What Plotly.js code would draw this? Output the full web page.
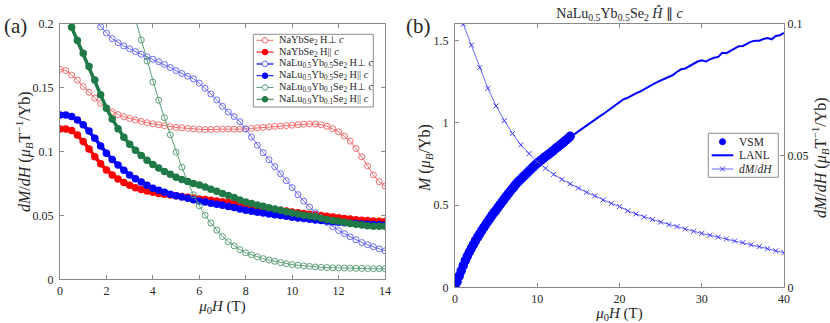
<!DOCTYPE html>
<html>
<head>
<meta charset="utf-8">
<script src="https://cdn.plot.ly/plotly-3.0.1.min.js"></script>
<style>
  html, body { margin: 0; padding: 0; background: #fff; }
  #plot { width: 830px; height: 323px; }
</style>
</head>
<body>
<div id="plot"></div>
<script>
// field grid (T), panel (a) and the VSM sweep of panel (b)
const fieldFine = [0,0.25,0.5,0.75,1,1.25,1.5,1.75,2,2.25,2.5,2.75,3,3.25,3.5,3.75,4,4.25,4.5,4.75,
  5,5.25,5.5,5.75,6,6.25,6.5,6.75,7,7.25,7.5,7.75,8,8.25,8.5,8.75,9,9.25,9.5,9.75,
  10,10.25,10.5,10.75,11,11.25,11.5,11.75,12,12.25,12.5,12.75,13,13.25,13.5,13.75,14];

// panel (a): dM/dH (muB T^-1 / Yb)
const nybPerp = [0.1645,0.1635,0.160,0.156,0.151,0.1465,0.142,0.1378,0.134,0.1312,
  0.129,0.1273,0.126,0.1248,0.1237,0.1227,0.1218,0.121,0.1203,0.1196,
  0.119,0.1186,0.1182,0.1178,0.1175,0.1173,0.1174,0.1176,0.1177,0.1177,
  0.1176,0.1176,0.1178,0.1182,0.1186,0.119,0.1194,0.1198,0.1201,0.1204,
  0.1207,0.1211,0.1215,0.1217,0.1216,0.1211,0.1199,0.118,0.1155,0.1122,
  0.1082,0.1025,0.096,0.0888,0.0818,0.0765,0.0731];
const nybPar = [0.1178,0.1177,0.1165,0.113,0.108,0.102,0.096,0.0905,0.0857,0.0818,
  0.0786,0.0758,0.0736,0.0718,0.0704,0.0692,0.0681,0.0673,0.0666,0.066,
  0.0654,0.0648,0.0642,0.0636,0.063,0.0625,0.062,0.0614,0.0608,0.0601,
  0.0593,0.0585,0.0577,0.0571,0.0565,0.0559,0.0553,0.0547,0.0541,0.0535,
  0.0528,0.0522,0.0516,0.051,0.0505,0.05,0.0494,0.0488,0.0482,0.0477,
  0.0472,0.0467,0.0463,0.046,0.0457,0.0455,0.0453];
const lu5Perp = [null,null,null,null,null,null,0.2035,0.1978,0.193,0.1885,
  0.1853,0.1828,0.1805,0.1784,0.1763,0.1743,0.1724,0.1705,0.1683,0.1659,
  0.1635,0.1612,0.1591,0.157,0.1537,0.1496,0.1452,0.1405,0.1355,0.131,
  0.1275,0.1235,0.1178,0.1115,0.105,0.0992,0.0937,0.0883,0.0827,0.0772,
  0.0718,0.0663,0.0612,0.0566,0.0522,0.0482,0.0446,0.0412,0.0382,0.0357,
  0.0333,0.031,0.0288,0.0271,0.0255,0.0238,0.0223];
const lu5Par = [0.1288,0.1287,0.1275,0.1248,0.121,0.1162,0.1105,0.1045,0.0987,0.0938,
  0.0895,0.0855,0.0818,0.0788,0.0762,0.0736,0.0714,0.0697,0.0681,0.0667,
  0.0655,0.0644,0.0634,0.0624,0.0614,0.0605,0.0596,0.0588,0.058,0.0571,
  0.0562,0.0551,0.054,0.0533,0.0526,0.0519,0.0512,0.0506,0.0499,0.0493,
  0.0487,0.0481,0.0476,0.047,0.0465,0.046,0.0456,0.0451,0.0447,0.0443,
  0.044,0.0437,0.0434,0.0431,0.0429,0.0427,0.0426];
const lu9Perp = [null,null,null,null,null,null,null,null,null,null,
  null,null,null,0.2035,0.1875,0.171,0.1545,0.1403,0.1266,0.1132,
  0.0995,0.0878,0.0765,0.0662,0.0575,0.0502,0.0441,0.0385,0.0335,0.0295,
  0.0262,0.0232,0.0208,0.0191,0.0176,0.0162,0.0151,0.0141,0.0131,0.0122,
  0.0115,0.011,0.0105,0.0101,0.0097,0.0094,0.0092,0.009,0.0089,0.0088,
  0.0087,0.0086,0.0085,0.0084,0.0083,0.0083,0.0082];
const lu9Par = [null,null,0.1975,0.187,0.177,0.1668,0.1562,0.1445,0.134,0.1255,
  0.118,0.1113,0.1058,0.101,0.097,0.0933,0.09,0.0872,0.0845,0.0822,
  0.08,0.0782,0.0766,0.0751,0.0738,0.0723,0.0706,0.0689,0.0672,0.0656,
  0.0641,0.0622,0.0605,0.0594,0.0583,0.0572,0.0561,0.0551,0.054,0.053,
  0.052,0.0511,0.0502,0.0496,0.049,0.0479,0.0468,0.0461,0.0455,0.0446,
  0.0437,0.0431,0.0425,0.0419,0.0416,0.0415,0.0415];

const legendA = [
  "NaYbSe<sub>2</sub> H⊥ <i>c</i>",
  "NaYbSe<sub>2</sub> H|| <i>c</i>",
  "NaLu<sub>0.5</sub>Yb<sub>0.5</sub>Se<sub>2</sub> H⊥ <i>c</i>",
  "NaLu<sub>0.5</sub>Yb<sub>0.5</sub>Se<sub>2</sub> H|| <i>c</i>",
  "NaLu<sub>0.9</sub>Yb<sub>0.1</sub>Se<sub>2</sub> H⊥ <i>c</i>",
  "NaLu<sub>0.9</sub>Yb<sub>0.1</sub>Se<sub>2</sub> H|| <i>c</i>"
];

// panel (b): magnetisation (muB / Yb) and its derivative
const mVsm = [0,0.034,0.068,0.1,0.132,0.162,0.19,0.215,0.239,0.262,
  0.284,0.305,0.325,0.345,0.364,0.383,0.401,0.419,0.437,0.454,
  0.47,0.487,0.504,0.521,0.538,0.554,0.57,0.586,0.601,0.617,
  0.632,0.645,0.657,0.67,0.682,0.694,0.707,0.719,0.731,0.743,
  0.754,0.764,0.774,0.784,0.794,0.803,0.812,0.823,0.833,0.844,
  0.854,0.864,0.874,0.884,0.895,0.905,0.918];
const fieldLanl = [14,14.5,15,15.5,16,16.5,17,17.5,18,18.5,19,19.5,20,20.5,21,21.5,22,22.5,
  23,23.5,24,24.5,25,25.5,26,26.5,27,27.5,28,28.5,29,29.5,30,30.5,31,31.5,32,32.5,
  33,33.5,34,34.5,35,35.5,36,36.5,37,37.5,38,38.5,39,39.5,40];
const mLanl = [0.918,0.93,0.948,0.966,0.985,1.005,1.02,1.036,1.052,1.07,1.09,1.106,1.128,1.143,
  1.152,1.163,1.178,1.19,1.205,1.222,1.232,1.245,1.256,1.267,1.28,1.29,1.31,1.325,
  1.33,1.345,1.357,1.372,1.38,1.372,1.385,1.395,1.4,1.425,1.423,1.437,1.448,1.465,
  1.467,1.478,1.493,1.498,1.498,1.509,1.515,1.507,1.527,1.532,1.546];
const fieldDiff = [1,2,3,4,5,6,7,8,9,10,11,12,13,14,15,16,17,18,19,20,
  21,22,23,24,25,26,27,28,29,30,31,32,33,34,35,36,37,38,39,40];
const dmdhB = [0.1,0.092,0.0834,0.0756,0.0689,0.0633,0.0584,0.0541,0.0508,0.0477,
  0.0452,0.0429,0.041,0.0393,0.0377,0.0361,0.0348,0.0332,0.0319,0.0307,
  0.0291,0.0279,0.0267,0.0258,0.0248,0.0238,0.0231,0.0222,0.0213,0.0205,
  0.0198,0.0191,0.0184,0.0176,0.017,0.0162,0.0155,0.0147,0.0139,0.0132];
const legendB = ["VSM", "LANL", "<i>dM</i>/<i>dH</i>"];

const W = 830, H = 323;
const px = v => v / W;
const py = v => 1 - v / H;

const styleA = [
  { y: nybPerp, color: "#f26d6d", open: true },
  { y: nybPar, color: "#ff0000", open: false },
  { y: lu5Perp, color: "#6a6af4", open: true },
  { y: lu5Par, color: "#0000ff", open: false },
  { y: lu9Perp, color: "#5c9f78", open: true },
  { y: lu9Par, color: "#1f7a48", open: false }
];

const traces = styleA.map(s => ({
  type: "scatter", mode: "lines+markers", x: fieldFine, y: s.y,
  xaxis: "x", yaxis: "y", showlegend: false,
  line: { color: s.color, width: s.open ? 1 : 3.5 },
  marker: s.open
    ? { symbol: "circle-open", size: 6, color: s.color, line: { width: 1, color: s.color } }
    : { symbol: "circle", size: 7.5, color: s.color, line: { width: 0 } }
}));

traces.push(
  { type: "scatter", mode: "markers", x: fieldFine, y: mVsm, xaxis: "x2", yaxis: "y2",
    showlegend: false, marker: { color: "#0000ff", size: 9.5 } },
  { type: "scatter", mode: "lines", x: fieldLanl, y: mLanl, xaxis: "x2", yaxis: "y2",
    showlegend: false, line: { color: "#0000ff", width: 2 } },
  { type: "scatter", mode: "lines+markers", x: fieldDiff, y: dmdhB, xaxis: "x2", yaxis: "y3",
    showlegend: false, line: { color: "#3d3dff", width: 0.8 },
    marker: { symbol: "x-thin", size: 5, line: { width: 1, color: "#3d3dff" } } }
);

// hand-drawn legends (plotly's own legend rows are too tall here)
const shapes = [];
const annotations = [];

function legendBox(x0, x1, y0, y1) {
  shapes.push({ type: "rect", xref: "paper", yref: "paper", layer: "above",
    x0: px(x0), x1: px(x1), y0: py(y1), y1: py(y0),
    line: { color: "#8c8c8c", width: 1 }, fillcolor: "#ffffff" });
}
function legendRow(x0, x1, y, o) {
  if (o.line) {
    shapes.push({ type: "line", xref: "paper", yref: "paper",
      x0: px(x0), x1: px(x1), y0: py(y), y1: py(y), line: { color: o.color, width: o.line } });
  }
  const xm = px((x0 + x1) / 2), ym = py(y);
  const base = { xref: "paper", yref: "paper", xsizemode: "pixel", ysizemode: "pixel", xanchor: xm, yanchor: ym };
  if (o.marker === "x") {
    shapes.push(Object.assign({ type: "path", path: "M-2.5,-2.5L2.5,2.5M-2.5,2.5L2.5,-2.5",
      line: { color: o.color, width: 1 } }, base));
  } else if (o.marker) {
    const r = o.r;
    shapes.push(Object.assign({ type: "circle", x0: -r, x1: r, y0: -r, y1: r,
      line: { color: o.color, width: 1 }, fillcolor: o.marker === "open" ? "#ffffff" : o.color }, base));
  }
}
function legendText(x, y, text, size) {
  annotations.push({ xref: "paper", yref: "paper", x: px(x), y: py(y), xanchor: "left", yanchor: "middle",
    text, showarrow: false, font: { size } });
}
function sideTitle(x, y, text, size) {
  annotations.push({ xref: "paper", yref: "paper", x: px(x), y: py(y), xanchor: "center", yanchor: "middle",
    text, textangle: -90, showarrow: false, font: { size } });
}

legendBox(253.3, 373.3, 34.3, 107);
styleA.forEach((s, i) => {
  const y = 40.3 + 11.8 * i;
  legendRow(256.5, 273.5, y, { color: s.color, line: i === 2 ? 2.2 : 1, marker: s.open ? "open" : "fill", r: 2.8 });
  legendText(276.5, y, legendA[i], 10.3);
});

legendBox(708.3, 778.3, 133.3, 177.3);
legendRow(711.7, 733.3, 141.7, { color: "#0000ff", line: 0, marker: "fill", r: 3 });
legendRow(711.7, 733.3, 155.3, { color: "#0000ff", line: 2 });
legendRow(711.7, 733.3, 169, { color: "#3d3dff", line: 0.8, marker: "x" });
legendB.forEach((t, i) => legendText(736.5, [141.7, 155.3, 169][i], t, 11.5));

annotations.push(
  { xref: "paper", yref: "paper", x: px(2), y: py(26), xanchor: "left", yanchor: "middle",
    text: "(a)", showarrow: false, font: { size: 21 } },
  { xref: "paper", yref: "paper", x: px(404), y: py(26), xanchor: "left", yanchor: "middle",
    text: "(b)", showarrow: false, font: { size: 21 } }
);

const xTitle = "<i>μ</i><sub>0</sub><i>H</i> (T)";
const dTitle = "<i>dM</i>/<i>dH</i> (<i>μ</i><sub><i>B</i></sub>T<sup>−1</sup>/Yb)";
sideTitle(24, 152, dTitle, 16);
sideTitle(425, 158, "<i>M</i> (<i>μ</i><sub><i>B</i></sub>/Yb)", 16);
sideTitle(820, 158, dTitle, 16);

const axisBase = {
  showline: true, linecolor: "#8a8a8a", linewidth: 1, mirror: "ticks",
  ticks: "inside", ticklen: 4, tickcolor: "#8a8a8a", tickwidth: 1,
  showgrid: false, zeroline: false, automargin: false,
  tickfont: { size: 12, color: "#262626" }
};

const layout = {
  width: W, height: H,
  margin: { l: 0, r: 0, t: 0, b: 0 },
  paper_bgcolor: "#ffffff", plot_bgcolor: "#ffffff",
  font: { family: "Liberation Serif, Times New Roman, serif", color: "#262626" },
  showlegend: false,
  title: { text: "NaLu<sub>0.5</sub>Yb<sub>0.5</sub>Se<sub>2</sub> <i>Ĥ</i> ∥ <i>c</i>",
    xref: "paper", yref: "paper", x: px(619.5), xanchor: "center", y: py(13), yanchor: "middle",
    font: { size: 14 } },
  xaxis: Object.assign({}, axisBase, {
    domain: [px(60), px(385)], range: [0, 14], dtick: 2, anchor: "y",
    title: { text: xTitle, font: { size: 15 }, standoff: 3 } }),
  yaxis: Object.assign({}, axisBase, {
    domain: [py(279.3), py(24)], range: [0, 0.2], dtick: 0.05, anchor: "x",
    ticklabelstandoff: 3 }),
  xaxis2: Object.assign({}, axisBase, {
    domain: [px(455), px(784)], range: [0, 40], dtick: 10, anchor: "y2",
    title: { text: xTitle, font: { size: 15 }, standoff: 1 } }),
  yaxis2: Object.assign({}, axisBase, {
    domain: [py(287.4), py(24)], range: [0, 1.6], tickvals: [0, 0.5, 1, 1.5], anchor: "x2",
    mirror: false, ticklabelstandoff: 3 }),
  yaxis3: Object.assign({}, axisBase, {
    overlaying: "y2", side: "right", anchor: "x2", range: [0, 0.1], tickvals: [0, 0.05, 0.1],
    mirror: false }),
  shapes, annotations
};

Plotly.newPlot("plot", traces, layout, { displayModeBar: false, staticPlot: true });
</script>
</body>
</html>
